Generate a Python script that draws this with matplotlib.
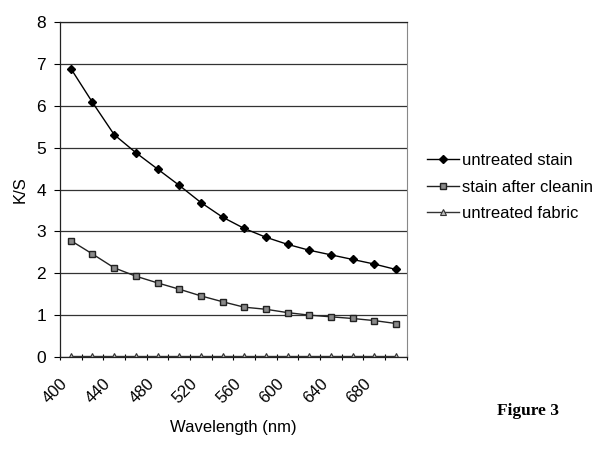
import numpy as np
import matplotlib
matplotlib.use("Agg")
import matplotlib.pyplot as plt
from matplotlib.transforms import ScaledTranslation

# wavelengths (nm), one category every 20 nm
wavelengths = [400, 420, 440, 460, 480, 500, 520, 540, 560, 580, 600, 620, 640, 660, 680, 700]
untreated_stain = [6.89, 6.08, 5.31, 4.88, 4.49, 4.10, 3.69, 3.34, 3.07, 2.86, 2.69, 2.55, 2.44, 2.33, 2.22, 2.09]
stain_after_cleaning = [2.78, 2.46, 2.13, 1.93, 1.77, 1.62, 1.46, 1.32, 1.19, 1.14, 1.06, 1.00, 0.96, 0.92, 0.87, 0.80]
untreated_fabric = [0.02] * 16
series_labels = ['untreated stain', 'stain after cleanin', 'untreated fabric']

plt.rcParams['font.family'] = ['Liberation Sans', 'DejaVu Sans']

fig = plt.figure(figsize=(5.98, 4.58), dpi=100)
ax = fig.add_axes([0.1003, 0.2205, 0.580, 0.7314])

x = np.arange(len(wavelengths))
h1, = ax.plot(x, untreated_stain, color='black', lw=1.0, marker='D', ms=4.5,
              mfc='black', mec='black')
h2, = ax.plot(x, stain_after_cleaning, color='#222222', lw=1.0, marker='s', ms=5,
              mfc='#8a8a8a', mec='#222222', mew=1.0)
h3, = ax.plot(x, untreated_fabric, color='#333333', lw=1.0, marker='^', ms=5,
              mfc='#bdbdbd', mec='#333333', mew=0.8)

ax.set_xlim(-0.5, len(wavelengths) - 0.5)
ax.set_ylim(0, 8)
ax.set_yticks(range(0, 9))
ax.yaxis.grid(True, color='#333333', lw=0.9)
ax.set_axisbelow(True)

ax.set_xticks(x[::2])
ax.set_xticks(np.arange(-0.5, len(wavelengths)), minor=True)
ax.tick_params(axis='x', which='major', length=0, pad=7)
ax.tick_params(axis='x', which='minor', length=4, direction='inout', width=0.8)
ax.tick_params(axis='y', length=4, width=0.8, labelsize=12.5, pad=6)
ax.set_xticklabels([str(w) for w in wavelengths[::2]], rotation=45, ha='right',
                   rotation_mode='anchor', fontsize=12)
# nudge rotated labels down-left like the original
shift = ScaledTranslation(-11 / 100, -9 / 100, fig.dpi_scale_trans)
for lbl in ax.xaxis.get_majorticklabels():
    lbl.set_transform(lbl.get_transform() + shift)

for s in ['left', 'bottom', 'top']:
    ax.spines[s].set_color('#222222')
    ax.spines[s].set_linewidth(0.9)
ax.spines['right'].set_color('#888888')

ax.set_ylabel('K/S', fontsize=12, labelpad=6)
ax.set_xlabel('Wavelength (nm)', fontsize=12, labelpad=10)

fig.legend([h1, h2, h3], series_labels, loc='upper left',
           bbox_to_anchor=(0.703, 0.68), frameon=False, fontsize=12,
           handlelength=1.9, handletextpad=0.2, labelspacing=0.68,
           borderaxespad=0)

fig.text(0.831, 0.093, 'Figure 3', family=['Liberation Serif', 'DejaVu Serif'],
         fontweight='bold', fontsize=12.5)

fig.savefig('out.png', dpi=100)
